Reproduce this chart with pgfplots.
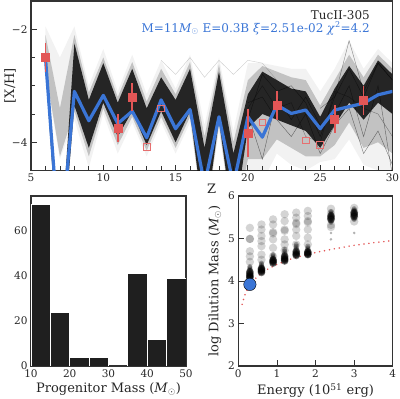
\documentclass[border=0pt]{standalone}
\usepackage{fontspec}
\setmainfont{DejaVu Serif}
\usepackage{pgfplots}
\pgfplotsset{compat=1.18}
\definecolor{bestblue}{RGB}{58,117,214}
\definecolor{obsred}{RGB}{226,86,86}
\definecolor{framegray}{RGB}{51,51,51}
\begin{document}
\begin{tikzpicture}
\useasboundingbox (0,0) rectangle (400pt,399pt);
\pgfplotsset{
  every axis/.append style={
    scale only axis,
    anchor=south west,
    axis line style={draw=framegray, line width=1.1pt},
    tick align=inside,
    tick pos=left,
    tick style={draw=framegray, line width=0.8pt},
    major tick length=5.5pt, minor tick length=4pt,
    tick label style={font=\fontsize{10.5}{12}\selectfont, text=black!85},
    label style={font=\fontsize{13}{15}\selectfont, text=black!85},
    /pgf/number format/assume math mode=true,
  }
}
% ---------------- top panel ----------------
\begin{axis}[at={(31pt,228.5pt)}, width=361.5pt, height=169.5pt,
  xmin=5, xmax=30, ymin=-4.5, ymax=-1.5,
  xtick={5,10,...,30}, minor x tick num=4,
  ytick={-4,-2}, yticklabels={−4,−2},
  minor ytick={-4.5,-3.5,-3,-2.5,-1.5},
  xlabel={Z}, ylabel={[X/H]},
  xlabel style={at={(rel axis cs:0.5,-0.109)}, anchor=center},
  ylabel style={at={(rel axis cs:-0.058,0.5)}, anchor=center},
  clip=true]
% outer light band
\addplot[draw=none, fill=black, fill opacity=0.05] coordinates {
(6,-1.95) (7,-2.5) (8,-1.95) (9,-3.0) (10,-2.35) (11,-3.1) (12,-2.45) (13,-3.15) (14,-2.55) (15,-3.05) (16,-2.45) (17,-3.7) (18,-2.5) (19,-3.8) (20,-2.6) (21,-2.6) (22,-2.65) (23,-2.7) (24,-2.7) (25,-3.1) (26,-2.7) (27,-2.2) (28,-2.7) (29,-2.35) (30,-2.6)
(30,-4.6) (29,-4.5) (28,-4.4) (27,-3.95) (26,-4.3) (25,-4.35) (24,-4.5) (23,-4.4) (22,-4.2) (21,-4.7) (20,-4.6) (19,-5.5) (18,-3.8) (17,-5.5) (16,-3.65) (15,-4.2) (14,-3.65) (13,-4.25) (12,-3.65) (11,-4.2) (10,-3.5) (9,-4.45) (8,-3.6) (7,-4.3) (6,-2.8)};
% mid band
\addplot[draw=none, fill=black, fill opacity=0.2] coordinates {
(6,-2.1) (7,-3.4) (8,-2.1) (9,-3.12) (10,-2.5) (11,-3.2) (12,-2.58) (13,-3.28) (14,-2.7) (15,-3.15) (16,-2.58) (17,-3.9) (18,-2.62) (19,-4.0) (20,-2.9) (21,-2.65) (22,-2.75) (23,-2.85) (24,-2.9) (25,-3.35) (26,-2.9) (27,-2.45) (28,-2.85) (29,-2.45) (30,-2.7)
(30,-4.2) (29,-4.0) (28,-4.1) (27,-3.65) (26,-4.05) (25,-4.25) (24,-4.25) (23,-4.1) (22,-3.95) (21,-4.3) (20,-4.3) (19,-5.5) (18,-3.7) (17,-5.5) (16,-3.55) (15,-4.1) (14,-3.55) (13,-4.15) (12,-3.55) (11,-4.05) (10,-3.4) (9,-4.25) (8,-3.45) (7,-4.25) (6,-2.72)};
% dark core
\addplot[draw=none, fill=black!92, fill opacity=0.9] coordinates {
(6,-2.35) (7,-6.0) (8,-2.25) (9,-3.25) (10,-2.6) (11,-3.3) (12,-2.7) (13,-3.4) (14,-2.85) (15,-3.25) (16,-2.7) (17,-4.1) (18,-2.75) (19,-4.2) (20,-3.15) (21,-2.75) (22,-2.9) (23,-3.05) (24,-3.1) (25,-3.55) (26,-3.05) (27,-2.65) (28,-3.0) (29,-2.55) (30,-2.8)
(30,-3.5) (29,-3.3) (28,-3.6) (27,-3.3) (26,-3.7) (25,-4.1) (24,-3.8) (23,-3.7) (22,-3.6) (21,-3.5) (20,-3.75) (19,-5.5) (18,-3.6) (17,-5.5) (16,-3.45) (15,-4.0) (14,-3.45) (13,-4.05) (12,-3.45) (11,-3.9) (10,-3.3) (9,-4.1) (8,-3.35) (7,-6.5) (6,-2.65)};
% individual model tracks (texture)
\addplot[black, line width=0.4pt, opacity=0.2] coordinates {(14,-2.55) (15,-2.8) (16,-2.5) (17,-2.85) (18,-2.55) (19,-2.8) (20,-2.55) (21,-2.6) (22,-2.9)};
\addplot[black, line width=0.4pt, opacity=0.45] coordinates {(25,-3.4) (26,-3.2) (27,-2.2) (28,-3.1) (29,-2.6) (30,-2.9)};
\addplot[black, line width=0.4pt, opacity=0.5] coordinates {(20,-3.6) (21,-2.8) (22,-3.1) (23,-3.0) (24,-3.3) (25,-3.9) (26,-3.2) (27,-2.7) (28,-3.2) (29,-2.6) (30,-2.9)};
\addplot[black, line width=0.4pt, opacity=0.5] coordinates {(20,-3.3) (21,-3.2) (22,-3.6) (23,-3.9) (24,-3.5) (25,-4.2) (26,-3.7) (27,-3.4) (28,-4.2) (29,-3.8) (30,-4.4)};
\addplot[black, line width=0.4pt, opacity=0.5] coordinates {(20,-3.5) (21,-4.3) (22,-3.2) (23,-3.6) (24,-3.2) (25,-3.7) (26,-3.5) (27,-3.0) (28,-3.9) (29,-3.0) (30,-4.6)};
\addplot[black, line width=0.4pt, opacity=0.4] coordinates {(20,-3.4) (21,-3.0) (22,-3.4) (23,-3.3) (24,-3.9) (25,-4.0) (26,-3.1) (27,-3.2) (28,-3.4) (29,-3.5) (30,-3.9)};
% best fit model
\addplot[bestblue, line width=3.2pt, line join=round] coordinates {
(6,-2.5) (7,-5.9) (8,-3.1) (9,-3.62) (10,-3.17) (11,-3.67) (12,-3.45) (13,-3.92) (14,-3.25) (15,-3.76) (16,-3.42) (17,-4.75) (18,-3.55) (19,-4.75) (20,-3.55) (21,-3.91) (22,-3.34) (23,-3.49) (24,-3.43) (25,-3.76) (26,-3.43) (27,-3.37) (28,-3.31) (29,-3.16) (30,-3.1)};
% upper limits
\addplot[only marks, mark=square, mark size=3.3pt, mark options={draw=obsred!85, line width=0.8pt}] coordinates {
(13,-4.08) (14,-3.40) (21,-3.65) (24,-3.97) (25,-4.05)};
% detections
\addplot[only marks, mark=square*, mark size=4pt, mark options={fill=obsred, draw=obsred},
  error bars/.cd, y dir=both, y explicit, error mark=none,
  error bar style={obsred, line width=1.8pt}] coordinates {
(6,-2.5) +- (0,0.25)
(11,-3.75) +- (0,0.25)
(12,-3.2) +- (0,0.25)
(20,-3.84) +- (0,0.42)
(22,-3.35) +- (0,0.25)
(26,-3.59) +- (0,0.25)
(28,-3.26) +- (0,0.26)};
\node[anchor=base east, text=black!85, font=\fontsize{12}{14}\selectfont] at (rel axis cs:0.947,0.888) {TucII-305};
\node[anchor=base east, text=bestblue, font=\fontsize{12}{14}\selectfont] at (rel axis cs:0.947,0.817) {M=11\textit{M}$_\odot$ E=0.3B \textit{ξ}=2.51e-02 \textit{χ}\textsuperscript{2}=4.2};
\end{axis}
% ---------------- histogram ----------------
\begin{axis}[at={(31pt,33pt)}, width=155pt, height=170pt,
  xmin=10, xmax=50, ymin=0, ymax=75.6,
  xtick={10,20,...,50}, ytick={0,20,40,60},
  major tick length=0pt,
  xlabel={Progenitor Mass (\textit{M}$_\odot$)},
  xlabel style={at={(rel axis cs:0.5,-0.135)}, anchor=center}]
\addplot[ybar interval, fill=black!88, draw=white, line width=0.8pt] coordinates {
(10,72) (15,24) (20,4) (25,4) (30,0) (35,41) (40,12) (45,39) (50,39)};
\end{axis}
% ---------------- dilution mass vs energy ----------------
\begin{axis}[at={(238.3pt,33pt)}, width=154.5pt, height=170pt,
  xmin=0, xmax=4, ymin=2, ymax=6,
  xtick={0,1,2,3,4}, ytick={2,3,4,5,6},
  xlabel={Energy (10\textsuperscript{51} erg)},
  ylabel={log Dilution Mass (\textit{M}$_\odot$)},
  xlabel style={at={(rel axis cs:0.5,-0.145)}, anchor=center},
  ylabel style={at={(rel axis cs:-0.151,0.5)}, anchor=center}]
\addplot[only marks, mark=*, mark size=4.2pt, draw=none, fill=black, draw opacity=0, fill opacity=0.17,
  mark options={draw=none, draw opacity=0, fill=black, fill opacity=0.17}] coordinates {
(0.3,5.25) (0.3,4.99) (0.3,4.99) (0.3,4.70) (0.3,4.58) (0.3,4.45)
(0.6,5.33) (0.6,5.21) (0.6,5.06) (0.6,4.94) (0.6,4.82) (0.6,4.62) (0.6,4.50)
(0.9,5.45) (0.9,5.33) (0.9,5.15) (0.9,5.12) (0.9,4.98) (0.9,4.78) (0.9,4.58)
(1.2,5.57) (1.2,5.41) (1.2,5.21) (1.2,5.18) (1.2,4.98) (1.2,4.86) (1.2,4.72)
(1.5,5.61) (1.5,5.49) (1.5,5.37) (1.5,5.34) (1.5,5.21) (1.5,5.06) (1.5,4.86)
(1.8,5.65) (1.8,5.53) (1.8,5.41) (1.8,5.38) (1.8,5.21) (1.8,5.02) (1.8,4.86)
(2.4,5.70) (2.4,5.60) (2.4,5.45) (2.4,5.32) (2.4,5.27)
(3.0,5.72) (3.0,5.62) (3.0,5.50) (3.0,5.40)};
\addplot[only marks, mark=*, mark size=2.6pt, draw=none, fill=black, draw opacity=0, fill opacity=0.3,
  mark options={draw=none, draw opacity=0, fill=black, fill opacity=0.3}] coordinates {
(0.3,4.34) (0.3,4.31) (0.3,4.28) (0.3,4.25)
(0.6,4.42) (0.6,4.39) (0.6,4.36) (0.6,4.33)
(0.9,4.62) (0.9,4.59) (0.9,4.56) (0.9,4.53)
(1.2,4.74) (1.2,4.70) (1.2,4.66) (1.2,4.62)
(1.5,4.86) (1.5,4.82) (1.5,4.78) (1.5,4.74)
(1.8,4.82) (1.8,4.78) (1.8,4.75) (1.8,4.72)
(2.4,5.63) (2.4,5.60) (2.4,5.57) (2.4,5.41) (2.4,5.38)
(3.0,5.70) (3.0,5.67) (3.0,5.64) (3.0,5.48) (3.0,5.45)};
\addplot[only marks, mark=*, mark size=3.8pt, draw=none, fill=black, draw opacity=0, fill opacity=0.5,
  mark options={draw=none, draw opacity=0, fill=black, fill opacity=0.5}] coordinates {
(0.3,4.22) (0.3,4.19) (0.3,4.16) (0.3,4.13) (0.3,4.11) (0.3,4.09) (0.3,4.07)
(0.6,4.30) (0.6,4.28) (0.6,4.26) (0.6,4.24) (0.6,4.22) (0.6,4.20)
(0.9,4.50) (0.9,4.48) (0.9,4.46) (0.9,4.44) (0.9,4.42)
(1.2,4.59) (1.2,4.56) (1.2,4.53) (1.2,4.51) (1.2,4.49) (1.2,4.47)
(1.5,4.70) (1.5,4.67) (1.5,4.64) (1.5,4.62) (1.5,4.60)
(1.8,4.69) (1.8,4.67) (1.8,4.65) (1.8,4.63) (1.8,4.62)
(2.4,5.54) (2.4,5.51) (2.4,5.48) (2.4,5.45)
(3.0,5.61) (3.0,5.58) (3.0,5.55) (3.0,5.52)};
\addplot[only marks, mark=*, mark size=1.4pt, draw=none, fill=black, draw opacity=0, fill opacity=0.3,
  mark options={draw=none, draw opacity=0, fill=black, fill opacity=0.3}] coordinates {
(2.4,5.13) (2.4,4.98) (3.0,5.13)};
\addplot[only marks, mark=*, mark size=6.2pt, mark options={draw=none, fill=bestblue}] coordinates {(0.3,3.92)};
\addplot[obsred, line width=1.7pt, line cap=round, dash pattern=on 0pt off 5pt] coordinates {
(0.1,3.45) (0.15,3.62) (0.2,3.74) (0.3,3.90) (0.4,4.02) (0.5,4.11) (0.7,4.25) (1.0,4.39) (1.3,4.50) (1.6,4.58) (2.0,4.67) (2.5,4.76) (3.0,4.84) (3.5,4.90) (4.0,4.95)};
\end{axis}
\end{tikzpicture}
\end{document}
